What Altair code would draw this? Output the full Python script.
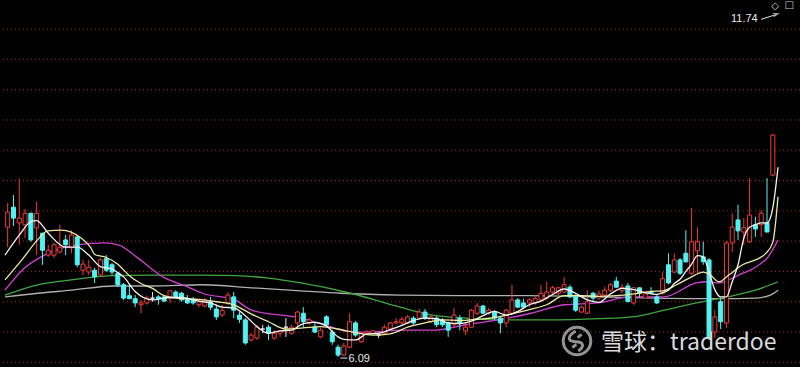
import altair as alt
import pandas as pd

# ---------------- candle data ----------------
opens = [8.23, 8.56, 8.30, 8.27, 8.46, 8.22, 8.13, 7.77, 7.77, 7.82,
         8.02, 7.89, 8.07, 7.52, 7.49, 7.52, 7.44, 7.71, 7.61, 7.47,
         7.28, 7.10, 7.05, 6.95, 6.98, 7.06, 7.08, 7.08, 7.06, 7.16,
         7.14, 7.05, 7.03, 6.95, 6.93, 7.00, 6.88, 6.78, 6.98, 7.08,
         6.78, 6.70, 6.37, 6.40, 6.55, 6.58, 6.40, 6.48, 6.58, 6.48,
         6.65, 6.81, 6.65, 6.58, 6.42, 6.75, 6.50, 6.25, 6.12, 6.25,
         6.65, 6.34, 6.47, 6.48, 6.45, 6.48, 6.55, 6.65, 6.65, 6.65,
         6.73, 6.73, 6.83, 6.67, 6.73, 6.70, 6.65, 6.62, 6.73, 6.52,
         6.58, 6.81, 6.93, 6.81, 6.83, 6.73, 6.65, 6.81, 7.03, 6.98,
         6.98, 6.98, 7.03, 7.06, 7.16, 7.14, 7.16, 7.24, 7.08, 6.83,
         6.81, 7.14, 7.06, 7.11, 7.19, 7.34, 7.18, 7.26, 6.98, 7.23,
         7.06, 7.16, 7.08, 7.14, 7.61, 7.49, 7.69, 7.80, 7.47, 7.84,
         7.74, 7.69, 6.50, 7.00, 6.65, 7.97, 8.35, 8.15, 7.99, 8.27,
         8.27, 8.30, 9.09]
highs = [8.63, 8.76, 9.03, 8.53, 8.47, 8.65, 8.14, 7.94, 7.97, 8.27,
         8.10, 8.18, 8.08, 7.69, 7.69, 7.56, 7.72, 7.77, 7.64, 7.49,
         7.31, 7.28, 7.11, 7.03, 7.10, 7.16, 7.11, 7.10, 7.19, 7.19,
         7.16, 7.11, 7.08, 7.03, 7.06, 7.08, 6.95, 6.95, 7.16, 7.16,
         6.83, 6.73, 6.48, 6.62, 6.62, 6.62, 6.53, 6.53, 6.73, 6.62,
         6.85, 6.91, 6.73, 6.65, 6.57, 6.78, 6.53, 6.29, 6.32, 6.81,
         6.68, 6.50, 6.53, 6.53, 6.48, 6.62, 6.67, 6.73, 6.75, 6.78,
         6.76, 6.88, 6.88, 6.78, 6.76, 6.73, 6.67, 6.90, 6.78, 6.65,
         6.88, 6.98, 6.95, 6.90, 6.86, 6.75, 6.88, 7.28, 7.06, 7.05,
         7.06, 7.11, 7.28, 7.33, 7.26, 7.24, 7.41, 7.28, 7.13, 6.93,
         7.19, 7.16, 7.19, 7.24, 7.31, 7.41, 7.29, 7.31, 7.24, 7.24,
         7.16, 7.24, 7.11, 7.49, 7.80, 7.80, 7.72, 8.18, 8.55, 8.23,
         7.99, 7.72, 6.86, 7.06, 8.00, 8.46, 8.60, 8.38, 9.04, 8.40,
         8.51, 9.04, 9.77]
lows = [7.90, 8.25, 7.94, 8.05, 7.99, 7.77, 7.61, 7.74, 7.72, 7.80,
        7.77, 7.80, 7.57, 7.44, 7.44, 7.31, 7.41, 7.49, 7.44, 7.24,
        7.03, 7.05, 6.91, 6.81, 6.95, 7.00, 6.95, 7.00, 6.98, 7.06,
        7.00, 6.96, 6.95, 6.91, 6.91, 6.86, 6.70, 6.75, 6.95, 6.73,
        6.65, 6.29, 6.34, 6.37, 6.48, 6.37, 6.37, 6.42, 6.42, 6.45,
        6.58, 6.58, 6.62, 6.48, 6.40, 6.58, 6.29, 6.09, 6.10, 6.24,
        6.42, 6.32, 6.45, 6.47, 6.40, 6.47, 6.53, 6.63, 6.62, 6.63,
        6.62, 6.70, 6.70, 6.65, 6.58, 6.58, 6.42, 6.58, 6.53, 6.45,
        6.57, 6.78, 6.80, 6.78, 6.70, 6.48, 6.58, 6.78, 6.90, 6.90,
        6.91, 6.95, 7.00, 7.03, 7.13, 7.11, 7.14, 7.06, 6.83, 6.81,
        6.80, 7.00, 7.03, 7.08, 7.16, 7.23, 7.14, 7.00, 6.95, 7.08,
        7.06, 7.13, 6.96, 7.11, 7.29, 7.47, 7.44, 7.64, 7.44, 7.47,
        7.61, 6.37, 6.40, 6.55, 6.57, 7.82, 8.02, 7.94, 7.97, 8.07,
        8.07, 8.15, 9.07]
closes = [8.48, 8.38, 8.38, 8.46, 8.02, 8.46, 7.85, 7.85, 7.94, 7.90,
          7.94, 8.10, 7.61, 7.62, 7.57, 7.41, 7.69, 7.52, 7.49, 7.28,
          7.06, 7.05, 6.98, 6.98, 7.06, 7.06, 7.05, 7.01, 7.18, 7.08,
          7.03, 6.98, 6.98, 7.00, 7.03, 6.91, 6.75, 6.86, 7.11, 6.86,
          6.71, 6.32, 6.45, 6.58, 6.55, 6.48, 6.48, 6.52, 6.58, 6.58,
          6.83, 6.67, 6.70, 6.50, 6.53, 6.62, 6.34, 6.12, 6.27, 6.67,
          6.45, 6.48, 6.50, 6.52, 6.45, 6.58, 6.65, 6.67, 6.71, 6.75,
          6.65, 6.83, 6.73, 6.75, 6.62, 6.62, 6.53, 6.78, 6.65, 6.58,
          6.86, 6.93, 6.81, 6.86, 6.73, 6.65, 6.86, 7.03, 6.91, 6.91,
          7.03, 7.05, 7.14, 7.16, 7.23, 7.23, 7.28, 7.08, 6.86, 6.91,
          7.00, 7.06, 7.13, 7.19, 7.28, 7.24, 7.24, 7.00, 7.23, 7.14,
          7.13, 7.14, 6.98, 7.38, 7.31, 7.69, 7.47, 7.66, 7.99, 7.99,
          7.66, 6.40, 6.75, 6.67, 7.97, 8.23, 8.17, 8.22, 8.43, 8.20,
          8.46, 8.15, 9.75]

# ---------------- moving-average lines (read as points) ----------------
ma5_idx = [-0.46, 2, 4, 5, 7, 10, 12, 14, 16, 18, 19, 20, 22, 25, 28, 30, 33, 35, 37, 39,
           41, 43, 45, 47, 49, 51, 53, 55, 57, 58, 60, 62, 64, 66, 68, 70, 72, 74, 76, 78,
           80, 82, 84, 86, 88, 90, 92, 94, 96, 98, 100, 102, 104, 106, 108, 110, 112, 113,
           114, 115, 116, 117, 118, 119, 120, 121, 122, 123, 124, 125, 126, 127, 128, 129,
           130, 131, 132, 132.9]
ma5_val = [7.77, 8.10, 8.32, 8.34, 8.13, 7.90, 7.90, 7.77, 7.58, 7.54, 7.48, 7.41, 7.17, 7.03,
           7.07, 7.07, 7.01, 6.98, 6.91, 6.90, 6.77, 6.59, 6.48, 6.52, 6.53, 6.64, 6.66, 6.60,
           6.42, 6.38, 6.37, 6.47, 6.48, 6.54, 6.61, 6.69, 6.73, 6.72, 6.65, 6.64, 6.68, 6.77,
           6.84, 6.78, 6.84, 6.95, 7.01, 7.12, 7.21, 7.14, 7.03, 6.99, 7.13, 7.22, 7.20, 7.15,
           7.12, 7.15, 7.19, 7.30, 7.37, 7.50, 7.62, 7.76, 7.74, 7.49, 7.20, 7.08, 7.08, 7.33,
           7.61, 8.05, 8.23, 8.27, 8.30, 8.30, 8.55, 9.22]

ma10_idx = [-0.46, 2.44, 5.16, 6.9, 9.25, 10.95, 12.66, 14.36, 15, 17, 19, 21, 23, 25, 27, 30,
            33, 36, 39, 42, 45, 48, 51, 54, 57, 60, 63, 66, 69, 72, 75, 78, 81, 84, 87, 90,
            93, 96, 99, 102, 105, 108, 111, 113, 115.4, 117.6, 120, 121, 122.7, 124.4, 126.8,
            129, 130.7, 132, 132.9]
ma10_val = [7.36, 7.69, 8.02, 8.17, 8.18, 8.15, 8.05, 7.89, 7.78, 7.73, 7.62, 7.43, 7.30, 7.22,
            7.10, 7.05, 7.04, 7.00, 6.95, 6.80, 6.67, 6.55, 6.57, 6.59, 6.55, 6.49, 6.45, 6.47,
            6.58, 6.65, 6.70, 6.69, 6.71, 6.74, 6.80, 6.87, 6.95, 7.10, 7.10, 7.09, 7.10, 7.13,
            7.17, 7.18, 7.28, 7.39, 7.49, 7.46, 7.33, 7.44, 7.61, 7.69, 7.79, 7.98, 8.73]

ma20_idx = [-0.46, 2.95, 6.35, 10.95, 16.6, 19.1, 22.2, 26.8, 31.4, 33.6, 39.2, 42.1, 50.6,
            56.3, 59.2, 62.1, 67.7, 73.3, 79.1, 84.7, 90.3, 96.1, 101.8, 107.4, 113.2, 118.8,
            120.5, 122.7, 126.1, 129, 131.2, 132.9]
ma20_val = [7.19, 7.56, 7.77, 7.92, 7.97, 7.94, 7.74, 7.41, 7.23, 7.14, 7.03, 6.86, 6.73,
            6.57, 6.50, 6.50, 6.53, 6.53, 6.62, 6.70, 6.81, 6.95, 6.98, 7.08, 7.08, 7.31,
            7.33, 7.31, 7.44, 7.57, 7.74, 8.02]

ma60_idx = [-0.46, 5.16, 10.95, 18.3, 25.1, 33.6, 39.2, 45, 50.6, 59.2, 67.7, 73.3, 79.1,
            84.7, 93.2, 101.8, 108.6, 113.2, 118.8, 125.6, 129, 132.9]
ma60_val = [7.11, 7.28, 7.36, 7.43, 7.44, 7.44, 7.43, 7.39, 7.31, 7.14, 6.91, 6.78, 6.73,
            6.70, 6.70, 6.72, 6.76, 6.86, 6.98, 7.11, 7.19, 7.33]

ma120_idx = [-0.46, 5.16, 10.95, 18.3, 25.1, 33.6, 42.1, 50.6, 57.5, 67.7, 79.6, 89.8,
             101.8, 112, 122.2, 129, 131.6, 132.9]
ma120_val = [7.08, 7.14, 7.19, 7.26, 7.26, 7.28, 7.23, 7.18, 7.14, 7.11, 7.10, 7.10,
             7.08, 7.06, 7.05, 7.06, 7.11, 7.19]

grid_levels = [6.0, 6.5, 7.0, 7.5, 8.0, 8.5, 9.0, 9.5, 10.0, 10.5, 11.0, 11.5]

max_label = "11.74"
max_price = 11.74
min_label = "6.09"
min_price = 6.09
min_index = 57

# ---------------- build chart ----------------
n = len(opens)
direction = ["up" if c > o else ("down" if c < o else "flat") for o, c in zip(opens, closes)]
df = pd.DataFrame({"i": list(range(n)), "open": opens, "high": highs, "low": lows,
                   "close": closes, "dir": direction})

XS = alt.Scale(domain=[-0.46, 135.83], nice=False, zero=False)
YS = alt.Scale(domain=[5.923, 11.979], nice=False, zero=False)

stroke_scale = alt.Scale(domain=["up", "down", "flat"], range=["#F03C3C", "#52F2F2", "#E6E6E6"])
fill_scale = alt.Scale(domain=["up", "down", "flat"], range=["#000000", "#52F2F2", "#E6E6E6"])

grid = alt.Chart(pd.DataFrame({"p": grid_levels})).mark_rule(
    color="#A82626", strokeDash=[1, 3], strokeWidth=1
).encode(y=alt.Y("p:Q", scale=YS, axis=None))


def ma_layer(idx, val, color, width=1.3):
    d = pd.DataFrame({"i": idx, "v": val})
    return alt.Chart(d).mark_line(color=color, strokeWidth=width, interpolate="monotone").encode(
        x=alt.X("i:Q", scale=XS, axis=None), y=alt.Y("v:Q", scale=YS, axis=None), order="i:Q")


wick = alt.Chart(df).mark_rule(strokeWidth=1).encode(
    x=alt.X("i:Q", scale=XS, axis=None),
    y=alt.Y("low:Q", scale=YS, axis=None), y2="high:Q",
    color=alt.Color("dir:N", scale=stroke_scale, legend=None))

body = alt.Chart(df).mark_bar(width=4, strokeWidth=1).encode(
    x=alt.X("i:Q", scale=XS, axis=None),
    y=alt.Y("open:Q", scale=YS, axis=None), y2="close:Q",
    fill=alt.Fill("dir:N", scale=fill_scale, legend=None),
    stroke=alt.Stroke("dir:N", scale=stroke_scale, legend=None))

# max marker 11.74 with arrow
max_df = pd.DataFrame({"i": [129.4], "p": [11.67], "t": [max_label]})
max_text = alt.Chart(max_df).mark_text(align="right", baseline="middle", fontSize=11,
                                       font="Liberation Sans", color="#E8E8E8").encode(
    x=alt.X("i:Q", scale=XS, axis=None), y=alt.Y("p:Q", scale=YS, axis=None), text="t:N")
arrow_df = pd.DataFrame({"i": [130.0], "p": [11.66], "i2": [132.6], "p2": [max_price]})
arrow = alt.Chart(arrow_df).mark_rule(color="#E8E8E8", strokeWidth=1).encode(
    x=alt.X("i:Q", scale=XS, axis=None), y=alt.Y("p:Q", scale=YS, axis=None),
    x2="i2:Q", y2="p2:Q")
head = alt.Chart(pd.DataFrame({"i": [132.5], "p": [max_price]})).mark_point(
    shape="M -1 -0.6 L 1 0 L -1 0.6", size=30, color="#E8E8E8", filled=False, angle=345,
    strokeWidth=1).encode(x=alt.X("i:Q", scale=XS, axis=None), y=alt.Y("p:Q", scale=YS, axis=None))
icons = alt.Chart(pd.DataFrame({"i": [132.4, 134.85], "p": [11.88, 11.89], "t": ["◇", "□"]})).mark_text(
    fontSize=10, color="#CFCFCF", font="DejaVu Sans").encode(
    x=alt.X("i:Q", scale=XS, axis=None), y=alt.Y("p:Q", scale=YS, axis=None), text="t:N")

# min marker 6.09
min_line = alt.Chart(pd.DataFrame({"i": [min_index + 0.4], "i2": [min_index + 1.6],
                                   "p": [min_price - 0.02]})).mark_rule(
    color="#E8E8E8", strokeWidth=1).encode(
    x=alt.X("i:Q", scale=XS, axis=None), x2="i2:Q", y=alt.Y("p:Q", scale=YS, axis=None))
min_text = alt.Chart(pd.DataFrame({"i": [min_index + 1.8], "p": [min_price - 0.035],
                                   "t": [min_label]})).mark_text(
    align="left", baseline="middle", fontSize=11, font="Liberation Sans", color="#E8E8E8").encode(
    x=alt.X("i:Q", scale=XS, axis=None), y=alt.Y("p:Q", scale=YS, axis=None), text="t:N")

# watermark
wm_text = alt.Chart(pd.DataFrame({"t": ["雪球：traderdoe"]})).mark_text(
    align="left", baseline="alphabetic", fontSize=23, font="Noto Sans CJK SC",
    color="#DADADA").encode(x=alt.value(601), y=alt.value(350), text="t:N")
wm_circle = alt.Chart(pd.DataFrame({"a": [1]})).mark_point(
    shape="circle", size=760, filled=False, strokeWidth=3, color="#D0D0D0").encode(
    x=alt.value(577), y=alt.value(341))
wm_inner = alt.Chart(pd.DataFrame({"a": [1]})).mark_point(
    shape="M -0.1 -0.75 C -0.75 -0.35 -0.75 0.05 -0.1 0.05 C 0.55 0.05 0.55 0.45 0.1 0.75 "
          "M 0.35 -0.5 L 0.05 -0.25 M -0.35 0.5 L -0.05 0.25",
    size=700, filled=False, strokeWidth=3, color="#D0D0D0").encode(
    x=alt.value(577), y=alt.value(341))

chart = alt.layer(
    grid,
    ma_layer(ma120_idx, ma120_val, "#B0B0B0"),
    ma_layer(ma60_idx, ma60_val, "#3FA83F"),
    ma_layer(ma20_idx, ma20_val, "#D040D0"),
    wick, body,
    ma_layer(ma10_idx, ma10_val, "#EAEAA0"),
    ma_layer(ma5_idx, ma5_val, "#F4F4F4"),
    max_text, arrow, head, icons, min_line, min_text,
    wm_circle, wm_inner, wm_text,
).properties(
    width=800, height=367, background="#000000", padding=0,
    autosize=alt.AutoSizeParams(type="none")
).configure_view(strokeWidth=0)

chart.save("out.html", embed_options={"renderer": "svg", "actions": False})
